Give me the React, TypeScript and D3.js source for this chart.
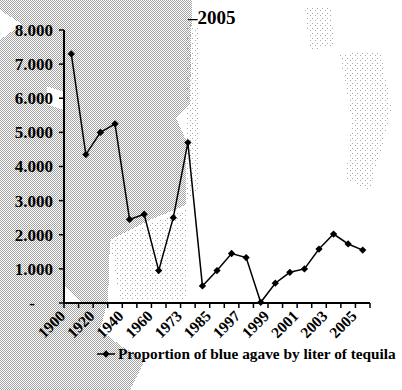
import React from "react";
import * as d3 from "d3";

// Years on the category axis (every other one is labelled)
const years = [
  "1900", "1910", "1920", "1930", "1940", "1950", "1960", "1970", "1973", "1980",
  "1985", "1990", "1997", "1998", "1999", "2000", "2001", "2002", "2003", "2004", "2005",
];
// Blue agave (grams) per liter of tequila
const agave = [
  7300, 4350, 5000, 5250, 2450, 2600, 950, 2500, 4700, 500,
  950, 1450, 1330, 20, 580, 900, 1000, 1580, 2020, 1730, 1550,
];
const yTicks = [0, 1000, 2000, 3000, 4000, 5000, 6000, 7000, 8000];
const seriesName = "Proportion of blue agave by liter of tequila";
const titleTail = "\u20132005";

const W = 402;
const H = 390;
const left = 64;
const right = 370;
const top = 30;
const bottom = 303;

const locale = d3.formatLocale({ decimal: ",", thousands: ".", grouping: [3], currency: ["", ""] });
const fmt = locale.format(",.0f");

export default function App() {
  const x = d3.scaleBand<string>().domain(years).range([left, right]).padding(0);
  const y = d3.scaleLinear().domain([0, 8000]).range([bottom, top]);
  const cx = (i: number) => (x(years[i]) as number) + x.bandwidth() / 2;

  const line = d3
    .line<number>()
    .x((_, i) => cx(i))
    .y((d) => y(d));

  const diamond = d3.symbol().type(d3.symbolDiamond2).size(34)();

  const font = "'Liberation Serif', 'Times New Roman', serif";
  const boundaries = d3.range(years.length + 1).map((i) => left + i * x.bandwidth());

  return (
    <svg
      width={W}
      height={H}
      style={{ position: "absolute", left: 0, top: 0, background: "#fff" }}
      fontFamily={font}
    >
      <defs>
        <pattern id="dither" width="2" height="2" patternUnits="userSpaceOnUse">
          <rect x="0" y="0" width="1" height="1" fill="#a2a2a2" />
          <rect x="1" y="1" width="1" height="1" fill="#a2a2a2" />
        </pattern>
        <pattern id="dither-light" width="5" height="5" patternUnits="userSpaceOnUse">
          <rect x="0" y="0" width="1" height="1" fill="#a8a8a8" />
          <rect x="2" y="3" width="1" height="1" fill="#a8a8a8" />
        </pattern>
      </defs>

      {/* halftone paper texture */}
      <g shapeRendering="crispEdges">
        <path
          d="M0,0 L192,0 L190,105 L176,118 L186,140 L186,205 L150,220 L110,240 L108,300 L100,330 L120,345 L145,360 L130,390 L0,390 Z"
          fill="url(#dither)"
        />
        <path d="M0,10 L22,24 L0,40 Z" fill="#fff" />
        <path d="M47,86 L63,92 L63,110 L47,104 Z" fill="#fff" />
        <path d="M64,285 L80,302 L64,302 Z" fill="#fff" />
        <path d="M110,240 L186,210 L186,300 L120,300 Z" fill="url(#dither-light)" />
        <path d="M340,55 L380,50 L392,110 L370,190 L345,180 L352,120 Z" fill="url(#dither-light)" />
        <path d="M305,8 L330,5 L335,45 L310,50 Z" fill="url(#dither-light)" />
        <path d="M186,20 L200,30 L198,190 L186,200 Z" fill="url(#dither-light)" />
      </g>

      <text x={188} y={24} fontSize={19} fontWeight="bold">
        {titleTail}
      </text>

      {/* y axis */}
      <line x1={left} x2={left} y1={top} y2={bottom} stroke="#000" strokeWidth={2} />
      {yTicks.map((t) => (
        <g key={t}>
          <line x1={left - 5} x2={left} y1={y(t)} y2={y(t)} stroke="#000" strokeWidth={1.5} />
          {t === 0 ? (
            <text x={32} y={y(t)} dy="0.35em" textAnchor="middle" fontSize={17} fontWeight="bold">
              -
            </text>
          ) : (
            <text x={53} y={y(t)} dy="0.35em" textAnchor="end" fontSize={17} fontWeight="bold">
              {fmt(t)}
            </text>
          )}
        </g>
      ))}

      {/* x axis */}
      <line x1={left} x2={right} y1={bottom} y2={bottom} stroke="#000" strokeWidth={2} />
      {boundaries.map((b, i) => (
        <line key={i} x1={b} x2={b} y1={bottom} y2={bottom + 5} stroke="#000" strokeWidth={1.5} />
      ))}
      {years.map((yr, i) =>
        i % 2 === 0 ? (
          <text
            key={yr}
            transform={`translate(${cx(i) - 5},${bottom + 14}) rotate(-45)`}
            textAnchor="end"
            fontSize={15.5}
            fontWeight="bold"
          >
            {yr}
          </text>
        ) : null
      )}

      {/* series */}
      <path d={line(agave) as string} fill="none" stroke="#000" strokeWidth={1.5} />
      {agave.map((v, i) => (
        <path key={i} d={diamond as string} transform={`translate(${cx(i)},${y(v)})`} fill="#000" />
      ))}

      {/* legend */}
      <line x1={97} x2={115} y1={354} y2={354} stroke="#000" strokeWidth={1.5} />
      <path d={diamond as string} transform="translate(106,354)" fill="#000" />
      <text x={118} y={359} fontSize={15.3} fontWeight="bold">
        {seriesName}
      </text>
    </svg>
  );
}
